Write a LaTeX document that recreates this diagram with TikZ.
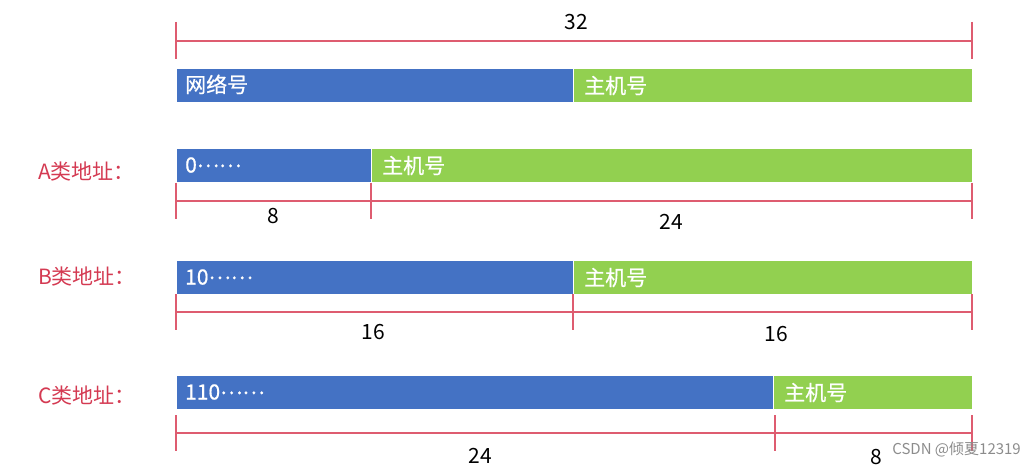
\documentclass[tikz,border=0pt]{standalone}
\usepackage{fontspec}
\setmainfont{Noto Sans CJK SC}
\newfontfamily\barfont[FakeBold=0.6]{Noto Sans CJK SC}
\usetikzlibrary{positioning}

\definecolor{netBlue}{RGB}{68,114,196}
\definecolor{hostGreen}{RGB}{146,208,80}
\definecolor{dimRed}{RGB}{222,92,112}
\definecolor{classRed}{RGB}{212,58,82}

\begin{document}
\begin{tikzpicture}
[x=1pt,y=-1pt,
  barDecorate/.style={shape=rectangle,anchor=north west,inner sep=0pt,
    minimum height=34pt,draw=white,line width=1pt},
  netBlock/.style={barDecorate,fill=netBlue},
  hostBlock/.style={barDecorate,fill=hostGreen},
  barText/.style={anchor=west,text=white,inner sep=0pt,
    font=\barfont\fontsize{21}{25}\selectfont},
  classLabel/.style={text=classRed,inner sep=0pt,
    font=\fontsize{21}{25}\selectfont},
  bitCount/.style={inner sep=0pt,font=\fontsize{21}{25}\selectfont},
  dimLine/.style={draw=dimRed,line width=1.1pt}]
\useasboundingbox (0,0) rectangle (1036,468);
%% bars: network part and host part
\foreach \row/\y/\split/\lbl/\tail in {
  top/68/573/网络号/{},
  a/148/371/0/……,
  b/260/573/10/……,
  c/375/773/110/……}
{
  \node (\row net) [netBlock,minimum width=\split-176] at (176,\y) {};
  \node (\row host) [hostBlock,minimum width=972-\split] at (\split,\y) {};
  \node (\row netlbl) [barText,anchor=base west]
    at ([xshift=9pt,yshift=-7pt]\row net.west) {\lbl\raisebox{0.26em}{\tail}};
  \node (\row hostlbl) [barText] at ([xshift=11pt]\row host.west) {主机号};
}
%% class labels
\foreach \row/\y/\cls in {a/172/A, b/277/B, c/396/C}
{
  \node (\row cls) [classLabel,anchor=west] at (38,\y) {\cls 类地址：};
}
%% dimension lines
\foreach \ytop/\ybot/\yline/\split in {
  22/59/41/972,
  183/219/201/371,
  294/330/312/573,
  415/451/433/775}
{
  \draw[dimLine] (176,\ytop) -- (176,\ybot);
  \draw[dimLine] (\split,\ytop) -- (\split,\ybot);
  \draw[dimLine] (972,\ytop) -- (972,\ybot);
  \draw[dimLine] (176,\yline) -- (972,\yline);
}
%% bit counts
\foreach \name/\x/\y/\bits in {
  all/576/22/32,
  anet/273/216/8, ahost/671/222/24,
  bnet/373/332/16, bhost/776/334/16,
  cnet/480/456/24, chost/876/457/8}
{
  \node (\name) [bitCount] at (\x,\y) {\bits};
}
\node (mark) [anchor=east,text=black!45,inner sep=0pt,
  font=\fontsize{15}{18}\selectfont] at (1021,450) {CSDN @倾夏12319};
\end{tikzpicture}
\end{document}
